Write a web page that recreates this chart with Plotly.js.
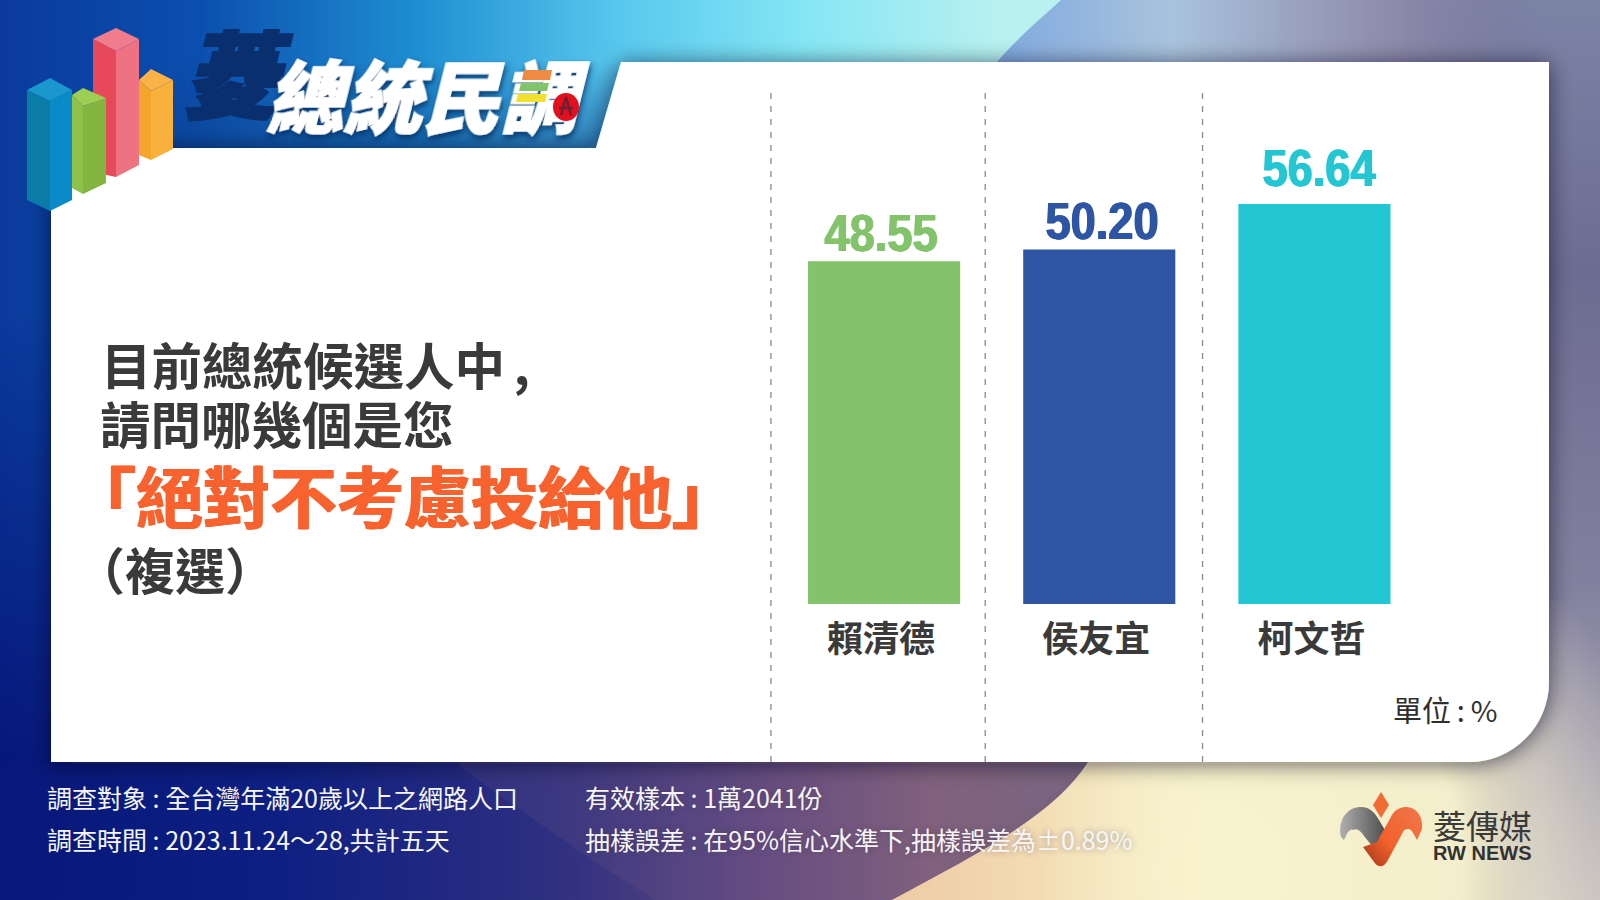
<!DOCTYPE html>
<html>
<head>
<meta charset="utf-8">
<script src="https://cdn.plot.ly/plotly-3.0.1.min.js"></script>
<style>
html,body{margin:0;padding:0;width:1600px;height:900px;overflow:hidden;background:#0b1e7e}
#bg{position:absolute;left:0;top:0}
#chart{position:absolute;left:0;top:0;width:1600px;height:900px}
.t{font-family:"Noto Sans CJK TC";font-weight:900}
.annotation[data-index="11"] text, .annotation[data-index="12"] text, .annotation[data-index="13"] text{transform-box:fill-box;transform-origin:center;transform:scaleX(.87)}
</style>
</head>
<body>
<svg id="bg" width="1600" height="900" viewBox="0 0 1600 900" xmlns="http://www.w3.org/2000/svg">
<defs>
<linearGradient id="topG" x1="0" y1="0" x2="1000" y2="0" gradientUnits="userSpaceOnUse">
<stop offset="0" stop-color="#0a3a9c"/><stop offset=".2" stop-color="#0b4fae"/><stop offset=".42" stop-color="#1f8fd2"/>
<stop offset=".62" stop-color="#58c8ee"/><stop offset=".8" stop-color="#84e6f4"/><stop offset="1" stop-color="#b8f1f0"/>
</linearGradient>
<linearGradient id="botG" x1="0" y1="0" x2="1100" y2="0" gradientUnits="userSpaceOnUse">
<stop offset="0" stop-color="#07177a"/><stop offset=".25" stop-color="#0d1f82"/><stop offset=".5" stop-color="#2e2f80"/>
<stop offset=".7" stop-color="#634a80"/><stop offset=".85" stop-color="#80607c"/><stop offset="1" stop-color="#75657f"/>
</linearGradient>
<linearGradient id="fade" x1="0" y1="0" x2="0" y2="1"><stop offset=".35" stop-color="#fff"/><stop offset=".85" stop-color="#000"/></linearGradient>
<mask id="fadeM"><rect width="1600" height="900" fill="url(#fade)"/></mask>
<linearGradient id="trG" x1="990" y1="0" x2="1600" y2="0" gradientUnits="userSpaceOnUse">
<stop offset="0" stop-color="#7fa9e0"/><stop offset=".3" stop-color="#a9c3dc"/><stop offset=".65" stop-color="#8f8bac"/><stop offset="1" stop-color="#6d6d92"/>
</linearGradient>
<linearGradient id="rG" x1="0" y1="0" x2="0" y2="900" gradientUnits="userSpaceOnUse">
<stop offset="0" stop-color="#7c84a6"/><stop offset=".3" stop-color="#6c6c92"/><stop offset=".65" stop-color="#82809e"/><stop offset="1" stop-color="#c2bbc0"/>
</linearGradient>
<linearGradient id="rFade" x1="1400" y1="0" x2="1540" y2="0" gradientUnits="userSpaceOnUse"><stop offset="0" stop-color="#000"/><stop offset="1" stop-color="#fff"/></linearGradient>
<mask id="rM"><rect width="1600" height="900" fill="url(#rFade)"/></mask>
<radialGradient id="crR" cx="1220" cy="870" r="440" gradientUnits="userSpaceOnUse">
<stop offset="0" stop-color="#f9f3cd"/><stop offset=".55" stop-color="#f3eecb"/><stop offset="1" stop-color="#dcd8c8" stop-opacity="0"/>
</radialGradient>
<linearGradient id="crP" x1="880" y1="0" x2="1200" y2="0" gradientUnits="userSpaceOnUse">
<stop offset="0" stop-color="#edc9a4"/><stop offset=".5" stop-color="#f3dcb4"/><stop offset="1" stop-color="#f8f0c8" stop-opacity="0"/>
</linearGradient>
<clipPath id="crC"><path d="M1100 600 L1095 750 C1065 810 985 850 892 900 L1600 900 L1600 600 Z"/></clipPath>
<linearGradient id="band" x1="0" y1="60" x2="0" y2="150" gradientUnits="userSpaceOnUse">
<stop offset="0" stop-color="#0b3f90" stop-opacity="0"/><stop offset="1" stop-color="#0a3f8c" stop-opacity=".5"/>
</linearGradient>
<filter id="sh" x="-5%" y="-10%" width="110%" height="120%"><feDropShadow dx="0" dy="2" stdDeviation="11" flood-color="#101020" flood-opacity=".62"/></filter>
<filter id="ts" x="-10%" y="-10%" width="120%" height="130%"><feDropShadow dx="2" dy="4" stdDeviation="3" flood-color="#052a60" flood-opacity=".8"/></filter>
<linearGradient id="grayR" x1="1340" y1="0" x2="1390" y2="0" gradientUnits="userSpaceOnUse"><stop offset="0" stop-color="#b0b0b0"/><stop offset="1" stop-color="#444"/></linearGradient>
<linearGradient id="orR" x1="1362" y1="860" x2="1420" y2="810" gradientUnits="userSpaceOnUse"><stop offset="0" stop-color="#a93a1c"/><stop offset=".4" stop-color="#f2602c"/><stop offset="1" stop-color="#f0764a"/></linearGradient>
</defs>
<rect width="1600" height="900" fill="url(#botG)"/>
<rect width="1600" height="900" fill="url(#topG)" mask="url(#fadeM)"/>
<path d="M460 767 C520 810 590 860 655 900 L900 900 L1100 762 L1100 700 L460 700 Z" fill="#8a6a86" opacity=".14"/>
<path d="M1061 0 C1040 20 1005 45 960 110 L960 700 L1600 700 L1600 0 Z" fill="url(#trG)"/>
<rect x="1400" y="0" width="200" height="900" fill="url(#rG)" mask="url(#rM)"/>
<g clip-path="url(#crC)">
<rect x="880" y="600" width="720" height="300" fill="url(#crR)"/>
<rect x="880" y="600" width="320" height="300" fill="url(#crP)"/>
</g>
<polygon points="170,62 621,62 596,148 170,148" fill="url(#band)"/>
<path d="M621 62 L1549 62 L1549 682 A80 80 0 0 1 1469 762 L51 762 L51 148 L596 148 Z" fill="#fff" filter="url(#sh)"/>

<!-- 3D bars icon -->
<polygon points="139,80 151,91 151,160 139,155" fill="#f5a42c"/><polygon points="151,91 173,80 173,149 151,160" fill="#f9b03c"/><polygon points="151,69 173,80 151,91 139,80" fill="#fbb347"/>
<polygon points="93,39 116,51 116,177 93,172" fill="#e8495a"/><polygon points="116,51 139,39 139,165 116,177" fill="#ef7282"/><polygon points="116,28 139,39 116,51 93,39" fill="#f17c8c"/>
<polygon points="72,95 83,106 83,194 72,188" fill="#8fc24a"/><polygon points="83,106 106,98 106,183 83,194" fill="#84b540"/><polygon points="83,88 106,98 83,106 72,95" fill="#9ecf52"/>
<polygon points="27,90 50,101 50,211 27,200" fill="#0b7ba8"/><polygon points="50,101 72,90 72,200 50,211" fill="#0a8ac9"/><polygon points="50,78 72,90 50,101 27,90" fill="#1a98ce"/>

<!-- slanted masthead: real text -->
<text class="t" transform="translate(184,111) skewX(-14)" font-size="94" fill="#0a2f6e" stroke="#0a2f6e" stroke-width="3">菱</text>
<text class="t" transform="translate(266,127) skewX(-14)" font-size="78" fill="#fff" stroke="#fff" stroke-width="1.5" filter="url(#ts)">總統民調</text>
<polygon points="524,70 552,70 550,80 522,80" fill="#ef8a45"/>
<polygon points="521,83 549,83 547,91 519,91" fill="#82c46a"/>
<polygon points="518,94 547,94 545,102 516,102" fill="#f2e030"/>
<ellipse cx="566" cy="107" rx="13" ry="14" fill="#e20f1e"/>
<path d="M566 97 L561 115 M566 97 L571 115 M559 108 L573 108" stroke="#6a2030" stroke-width="2.5" fill="none"/>

<!-- RW logo mark -->
<polygon points="1381,792 1389,805 1381,818 1373,805" fill="#f26a34"/>
<path d="M1340 832 C1340 815 1350 807 1361 807 C1370 807 1375 813 1379 820 L1392 842 L1377 852 L1364 836 C1360 830 1357 828 1353 830 C1349 827 1345 838 1344 840 C1341 838 1340 835 1340 832 Z" fill="url(#grayR)"/>
<path d="M1363 847 L1377 842 L1392 815 C1396 808 1402 807 1407 807 C1418 808 1423 818 1422 829 L1417 840 C1414 834 1411 828 1408 829 C1404 829 1403 832 1402 834 L1388 860 C1384 868 1378 868 1374 862 Z" fill="url(#orR)"/>
</svg>
<div id="chart"></div>
<script>
// ---- data ----
var candidates = ["賴清德", "侯友宜", "柯文哲"];
var rejectPct = [48.55, 50.20, 56.64];
var barColors = ["#82c36b", "#2e55a3", "#22c7d3"];
var questionLines = ["目前總統候選人中\u2006,", "請問哪幾個是您", "「絕對不考慮投給他」", "\uFF08複選\uFF09"];
var unitLabel = "單位\u2009:\u2009%";
var surveyLeft = ["調查對象 : 全台灣年滿20歲以上之網路人口", "調查時間 : 2023.11.24\uFF5E28,共計五天"];
var surveyRight = ["有效樣本 : 1萬2041份", "抽樣誤差 : 在95%信心水準下,抽樣誤差為±0.89%"];
var brandLines = ["菱傳媒", "RW NEWS"];

// ---- layout ----
var W = 1600, H = 900, L = 754.8, R = 177.5, T = 92, B = 296;
var pw = W - L - R, ph = H - T - B;
function px(x) { return (x - L) / pw; }
function py(y) { return (H - B - y) / ph; }
var CJK = '"Noto Sans CJK TC","Noto Sans CJK SC",sans-serif';
function note(text, x, y, size, color, weight, extra) {
  var f = {family: CJK, size: size, color: color, weight: weight};
  if (extra) f.shadow = extra;
  return {text: text, xref: "paper", yref: "paper", x: px(x), y: py(y), xanchor: "left", yanchor: "middle",
          showarrow: false, align: "left", font: f};
}
var ann = [];
var qSize = [50.5, 50.5, 67, 50], qX = [98, 97, 66, 72], qY = [363, 422, 493, 568];
var qCol = ["#3a3a3a", "#3a3a3a", "#f8622e", "#3a3a3a"];
questionLines.forEach(function (t, i) {
  ann.push(note(t, qX[i], qY[i], qSize[i], qCol[i], 700, i === 2 ? "1px 0 0 #f8622e,-1px 0 0 #f8622e" : "none"));
});
var footRow = [797, 839];
var glow = "0 0 6px rgba(70,50,70,.45)";
surveyLeft.forEach(function (t, i) { ann.push(note(t, 44, footRow[i], 25, "#f6f6f8", 400)); });
surveyRight.forEach(function (t, i) { ann.push(note(t, 583, footRow[i], 25, "#f6f6f8", 400, glow)); });
ann.push(note(unitLabel, 1391, 709, 29, "#2e2e2e", 400));
ann.push(note(brandLines[0], 1432, 825, 33, "#3a3a3a", 400));
ann.push({text: brandLines[1], xref: "paper", yref: "paper", x: px(1432), y: py(853), xanchor: "left", yanchor: "middle",
          showarrow: false, font: {family: "Liberation Sans", size: 20, color: "#333", weight: 700}});

// value labels anchored to the data
var valShiftX = [-3, 3, 5], valShiftY = [-3, -3, 5];
candidates.forEach(function (c, i) {
  ann.push({text: rejectPct[i].toFixed(2), x: c, y: rejectPct[i], xref: "x", yref: "y", xanchor: "center", yanchor: "bottom",
    xshift: valShiftX[i], yshift: valShiftY[i], showarrow: false,
    font: {family: '"Liberation Sans",sans-serif', size: 52, color: barColors[i], weight: 700,
           shadow: "0.8px 0 0 " + barColors[i] + ",-0.8px 0 0 " + barColors[i]}});
});

var dividers = [-0.526, 0.47, 1.48].map(function (x) {
  return {type: "line", xref: "x", yref: "paper", x0: x, x1: x, y0: py(762), y1: 1,
          line: {color: "#8a8a8a", width: 1.3, dash: "6px,7px"}, layer: "below"};
});

Plotly.newPlot("chart", [{
  type: "bar", x: candidates, y: rejectPct, width: 0.707,
  marker: {color: barColors, line: {width: 0}}, cliponaxis: false, hoverinfo: "skip"
}], {
  width: W, height: H, autosize: false, showlegend: false,
  margin: {l: L, r: R, t: T, b: B, pad: 0},
  paper_bgcolor: "rgba(0,0,0,0)", plot_bgcolor: "rgba(0,0,0,0)",
  xaxis: {type: "category", range: [-0.6, 2.5], showgrid: false, zeroline: false, showline: false, fixedrange: true,
          ticks: "outside", ticklen: 4, tickcolor: "rgba(0,0,0,0)", ticklabelshift: -3,
          tickfont: {family: CJK, size: 36, color: "#3a3a3a", weight: 700}},
  yaxis: {range: [0, 72.5], visible: false, fixedrange: true},
  shapes: dividers, annotations: ann
}, {displayModeBar: false, staticPlot: true});
</script>
</body>
</html>
